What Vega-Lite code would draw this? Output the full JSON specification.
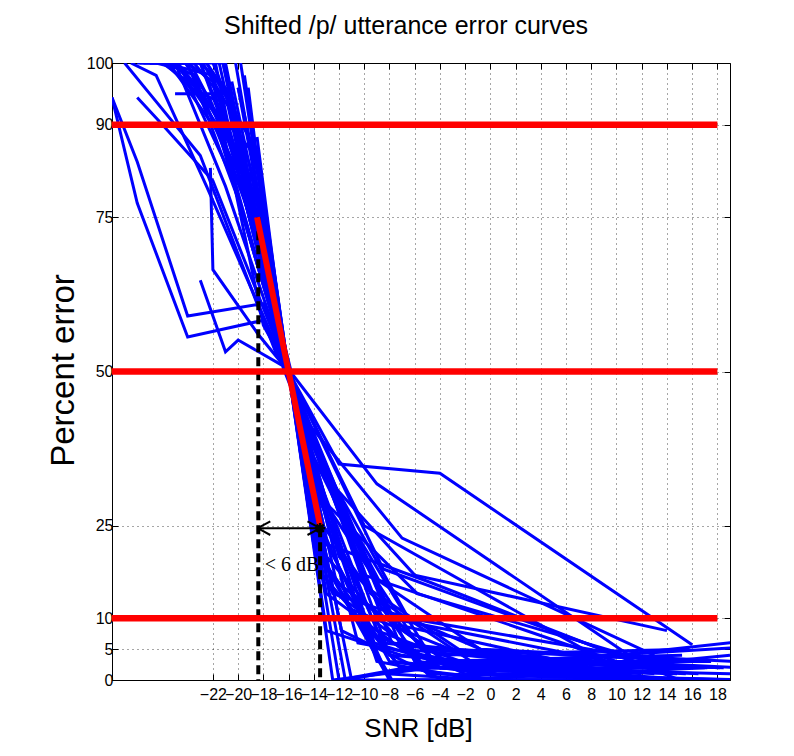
{
  "$schema": "https://vega.github.io/schema/vega-lite/v6.json",
  "width": 618,
  "height": 617,
  "autosize": {"type": "none"},
  "padding": {"left": 112, "top": 63, "right": 64, "bottom": 76},
  "background": "white",
  "title": {"text": "Shifted /p/ utterance error curves", "font": "Liberation Sans", "fontSize": 25, "fontWeight": "normal", "color": "black", "anchor": "middle", "baseline": "alphabetic", "offset": 26, "dx": -15, "dy": 30, "frame": "group"},
  "config": {
    "view": {"stroke": "black", "strokeWidth": 1},
    "axis": {"domainColor": "black", "tickColor": "black", "labelColor": "black", "titleColor": "black", "titleFontWeight": "normal", "minExtent": 0}
  },
  "datasets": {
    "curves": [
      {"c":"C1","x":-20,"y":96},{"c":"C1","x":-18,"y":74},{"c":"C1","x":-14,"y":26},{"c":"C1","x":-8,"y":3},{"c":"C1","x":0,"y":1},{"c":"C1","x":20,"y":0},
      {"c":"C2","x":-21,"y":100},{"c":"C2","x":-19,"y":80},{"c":"C2","x":-15,"y":40},{"c":"C2","x":-9,"y":8},{"c":"C2","x":-1,"y":2},{"c":"C2","x":19,"y":1},
      {"c":"C3","x":-19,"y":90},{"c":"C3","x":-17,"y":64},{"c":"C3","x":-13,"y":8},{"c":"C3","x":-7,"y":4},{"c":"C3","x":1,"y":2},{"c":"C3","x":21,"y":6.5},
      {"c":"C4","x":-21.5,"y":100},{"c":"C4","x":-19.5,"y":81.5},{"c":"C4","x":-15.5,"y":45.5},{"c":"C4","x":-9.5,"y":14},{"c":"C4","x":-1.5,"y":3},{"c":"C4","x":18.5,"y":2},
      {"c":"C5","x":-19.5,"y":98},{"c":"C5","x":-17.5,"y":69.5},{"c":"C5","x":-13.5,"y":17.5},{"c":"C5","x":-7.5,"y":3},{"c":"C5","x":0.5,"y":1},{"c":"C5","x":20.5,"y":0},
      {"c":"C6","x":-20.5,"y":97},{"c":"C6","x":-18.5,"y":77.5},{"c":"C6","x":-14.5,"y":33.5},{"c":"C6","x":-8.5,"y":6},{"c":"C6","x":-0.5,"y":4},{"c":"C6","x":19.5,"y":2},
      {"c":"C7","x":-18.5,"y":88},{"c":"C7","x":-16.5,"y":56},{"c":"C7","x":-12.5,"y":14},{"c":"C7","x":-6.5,"y":10},{"c":"C7","x":1.5,"y":3},{"c":"C7","x":21.5,"y":5.5},
      {"c":"C8","x":-21.8,"y":100},{"c":"C8","x":-19.8,"y":80.4},{"c":"C8","x":-15.8,"y":48.4},{"c":"C8","x":-9.8,"y":15},{"c":"C8","x":-1.8,"y":4},{"c":"C8","x":18.2,"y":2},
      {"c":"C9","x":-20.8,"y":95},{"c":"C9","x":-18.8,"y":75.2},{"c":"C9","x":-14.8,"y":39.2},{"c":"C9","x":-8.8,"y":16},{"c":"C9","x":-0.8,"y":5},{"c":"C9","x":19.2,"y":3},
      {"c":"C10","x":-19.8,"y":100},{"c":"C10","x":-17.8,"y":73.4},{"c":"C10","x":-13.8,"y":21.4},{"c":"C10","x":-7.8,"y":0},{"c":"C10","x":0.2,"y":0},{"c":"C10","x":20.2,"y":0},
      {"c":"C11","x":-19.2,"y":96},{"c":"C11","x":-17.2,"y":63.2},{"c":"C11","x":-13.2,"y":19.2},{"c":"C11","x":-7.2,"y":2},{"c":"C11","x":0.8,"y":0},{"c":"C11","x":20.8,"y":0},
      {"c":"C12","x":-23,"y":100},{"c":"C12","x":-21,"y":96},{"c":"C12","x":-17,"y":60},{"c":"C12","x":-11,"y":0},{"c":"C12","x":-3,"y":0},{"c":"C12","x":17,"y":2},
      {"c":"C13","x":-24,"y":100},{"c":"C13","x":-22,"y":97},{"c":"C13","x":-18,"y":57.5},{"c":"C13","x":-12,"y":35},{"c":"C13","x":-4,"y":33.5},{"c":"C13","x":16,"y":5.7},
      {"c":"C14","x":-25,"y":100},{"c":"C14","x":-23,"y":100},{"c":"C14","x":-19,"y":80},{"c":"C14","x":-13,"y":20},{"c":"C14","x":-5,"y":1},{"c":"C14","x":15,"y":0},
      {"c":"C15","x":-24.5,"y":100},{"c":"C15","x":-22.5,"y":100},{"c":"C15","x":-18.5,"y":85.7},{"c":"C15","x":-12.5,"y":0},{"c":"C15","x":-4.5,"y":2},{"c":"C15","x":15.5,"y":0},
      {"c":"C16","x":-23.5,"y":100},{"c":"C16","x":-21.5,"y":95},{"c":"C16","x":-17.5,"y":66.7},{"c":"C16","x":-11.5,"y":0},{"c":"C16","x":-3.5,"y":3},{"c":"C16","x":16.5,"y":1},
      {"c":"C17","x":-26,"y":100},{"c":"C17","x":-24,"y":100},{"c":"C17","x":-20,"y":78},{"c":"C17","x":-14,"y":36},{"c":"C17","x":-6,"y":3},{"c":"C17","x":14,"y":0},
      {"c":"C18","x":-25.5,"y":100},{"c":"C18","x":-23.5,"y":98},{"c":"C18","x":-19.5,"y":78},{"c":"C18","x":-13.5,"y":30},{"c":"C18","x":-5.5,"y":5},{"c":"C18","x":14.5,"y":2},
      {"c":"C19","x":-22.5,"y":100},{"c":"C19","x":-20.5,"y":94},{"c":"C19","x":-16.5,"y":54},{"c":"C19","x":-10.5,"y":6},{"c":"C19","x":-2.5,"y":3},{"c":"C19","x":17.5,"y":3},
      {"c":"C20","x":-27,"y":100},{"c":"C20","x":-25,"y":100},{"c":"C20","x":-21,"y":80},{"c":"C20","x":-15,"y":44},{"c":"C20","x":-7,"y":5},{"c":"C20","x":13,"y":1},
      {"c":"C21","x":-26.5,"y":100},{"c":"C21","x":-24.5,"y":99},{"c":"C21","x":-20.5,"y":81.5},{"c":"C21","x":-14.5,"y":39.5},{"c":"C21","x":-6.5,"y":10},{"c":"C21","x":13.5,"y":3},
      {"c":"C22","x":-24.2,"y":100},{"c":"C22","x":-22.2,"y":94},{"c":"C22","x":-18.2,"y":69.8},{"c":"C22","x":-12.2,"y":15.8},{"c":"C22","x":-4.2,"y":4},{"c":"C22","x":15.8,"y":5},
      {"c":"C23","x":-25.2,"y":100},{"c":"C23","x":-23.2,"y":96},{"c":"C23","x":-19.2,"y":78.8},{"c":"C23","x":-13.2,"y":24.8},{"c":"C23","x":-5.2,"y":2},{"c":"C23","x":14.8,"y":1},
      {"c":"C24","x":-23.8,"y":96},{"c":"C24","x":-21.8,"y":94},{"c":"C24","x":-17.8,"y":68},{"c":"C24","x":-11.8,"y":8},{"c":"C24","x":-3.8,"y":0},{"c":"C24","x":16.2,"y":0},
      {"c":"C25","x":-24.8,"y":100},{"c":"C25","x":-22.8,"y":95},{"c":"C25","x":-18.8,"y":80.8},{"c":"C25","x":-12.8,"y":14.8},{"c":"C25","x":-4.8,"y":3},{"c":"C25","x":15.2,"y":4},
      {"c":"C26","x":-21.2,"y":100},{"c":"C26","x":-19.2,"y":82},{"c":"C26","x":-15.2,"y":42},{"c":"C26","x":-9.2,"y":6},{"c":"C26","x":-1.2,"y":1},{"c":"C26","x":18.8,"y":0},
      {"c":"C27","x":-22.8,"y":100},{"c":"C27","x":-20.8,"y":93},{"c":"C27","x":-16.8,"y":55.6},{"c":"C27","x":-10.8,"y":13.6},{"c":"C27","x":-2.8,"y":2},{"c":"C27","x":17.2,"y":2},
      {"c":"C28","x":-23.2,"y":100},{"c":"C28","x":-21.2,"y":100},{"c":"C28","x":-17.2,"y":59.6},{"c":"C28","x":-11.2,"y":11.6},{"c":"C28","x":-3.2,"y":5},{"c":"C28","x":16.8,"y":3},
      {"c":"C29","x":-20.2,"y":100},{"c":"C29","x":-18.2,"y":76.4},{"c":"C29","x":-14.2,"y":28.4},{"c":"C29","x":-8.2,"y":1},{"c":"C29","x":-0.2,"y":0},{"c":"C29","x":19.8,"y":0},
      {"c":"C30","x":-25.8,"y":100},{"c":"C30","x":-23.8,"y":100},{"c":"C30","x":-19.8,"y":84.2},{"c":"C30","x":-13.8,"y":30.2},{"c":"C30","x":-5.8,"y":14},{"c":"C30","x":14.2,"y":2},
      {"c":"C31","x":-27.5,"y":100},{"c":"C31","x":-25.5,"y":100},{"c":"C31","x":-21.5,"y":88.5},{"c":"C31","x":-15.5,"y":46.5},{"c":"C31","x":-7.5,"y":9},{"c":"C31","x":12.5,"y":0},
      {"c":"C32","x":-20,"y":96},{"c":"C32","x":-18,"y":78},{"c":"C32","x":-14,"y":22},{"c":"C32","x":-8,"y":0},{"c":"C32","x":0,"y":0},{"c":"C32","x":20,"y":0},
      {"c":"C33","x":-22,"y":100},{"c":"C33","x":-20,"y":90},{"c":"C33","x":-16,"y":50},{"c":"C33","x":-10,"y":8},{"c":"C33","x":-2,"y":1},{"c":"C33","x":18,"y":0},
      {"c":"C34","x":-24,"y":95},{"c":"C34","x":-22,"y":95},{"c":"C34","x":-18,"y":75},{"c":"C34","x":-12,"y":0},{"c":"C34","x":-4,"y":3},{"c":"C34","x":16,"y":0},
      {"c":"C35","x":-25,"y":95},{"c":"C35","x":-23,"y":95},{"c":"C35","x":-19,"y":86},{"c":"C35","x":-13,"y":14},{"c":"C35","x":-5,"y":2},{"c":"C35","x":15,"y":3},
      {"c":"C36","x":-21,"y":95},{"c":"C36","x":-19,"y":83},{"c":"C36","x":-15,"y":39},{"c":"C36","x":-9,"y":3},{"c":"C36","x":-1,"y":0},{"c":"C36","x":19,"y":4},
      {"c":"C37","x":-28,"y":100},{"c":"C37","x":-26,"y":100},{"c":"C37","x":-22,"y":98},{"c":"C37","x":-16,"y":50},{"c":"C37","x":-8,"y":4},{"c":"C37","x":12,"y":1},
      {"c":"C38","x":-27.8,"y":100},{"c":"C38","x":-25.8,"y":100},{"c":"C38","x":-21.8,"y":92},{"c":"C38","x":-15.8,"y":48.6},{"c":"C38","x":-7.8,"y":6},{"c":"C38","x":12.2,"y":2},
      {"c":"A","x":-30,"y":94.4},{"c":"A","x":-28,"y":84},{"c":"A","x":-24,"y":59},{"c":"A","x":-18,"y":61},{"c":"A","x":-10,"y":17},{"c":"A","x":10,"y":3},
      {"c":"B","x":-30,"y":94.4},{"c":"B","x":-28,"y":77.3},{"c":"B","x":-24,"y":55.6},{"c":"B","x":-18,"y":58.3},{"c":"B","x":-10,"y":25},{"c":"B","x":10,"y":2},
      {"c":"C","x":-28,"y":94.4},{"c":"C","x":-26,"y":90},{"c":"C","x":-22,"y":80.9},{"c":"C","x":-16,"y":50},{"c":"C","x":-8,"y":10},{"c":"C","x":12,"y":2},
      {"c":"D","x":-23,"y":64.8},{"c":"D","x":-21,"y":53.2},{"c":"D","x":-20,"y":55.1},{"c":"D","x":-16.5,"y":51},{"c":"D","x":-12.5,"y":30},{"c":"D","x":-4.5,"y":3},{"c":"D","x":15.5,"y":1},
      {"c":"E","x":-22.2,"y":83},{"c":"E","x":-22,"y":66.5},{"c":"E","x":-18.4,"y":56},{"c":"E","x":-16,"y":50},{"c":"E","x":-12,"y":20},{"c":"E","x":-4,"y":2},{"c":"E","x":16,"y":0},
      {"c":"G","x":-27,"y":100},{"c":"G","x":-25,"y":100},{"c":"G","x":-21,"y":90},{"c":"G","x":-15,"y":43},{"c":"G","x":-7,"y":23},{"c":"G","x":13,"y":4},
      {"c":"H","x":-28.5,"y":100},{"c":"H","x":-26.5,"y":98},{"c":"H","x":-22.5,"y":80},{"c":"H","x":-16.5,"y":52},{"c":"H","x":-8.5,"y":18},{"c":"H","x":11.5,"y":3},
      {"c":"I","x":-29,"y":100},{"c":"I","x":-27,"y":95},{"c":"I","x":-23,"y":85},{"c":"I","x":-17,"y":53},{"c":"I","x":-9,"y":31.8},{"c":"I","x":11,"y":4},
      {"c":"J","x":-26,"y":100},{"c":"J","x":-24,"y":97},{"c":"J","x":-20,"y":85},{"c":"J","x":-14,"y":35},{"c":"J","x":-6,"y":17},{"c":"J","x":14,"y":8},
      {"c":"K","x":-25,"y":100},{"c":"K","x":-23,"y":100},{"c":"K","x":-19,"y":78},{"c":"K","x":-13,"y":22},{"c":"K","x":-5,"y":16},{"c":"K","x":15,"y":0}
    ]
  },
  "layer": [
    {
      "data": {"name": "curves"},
      "mark": {"type": "line", "color": "#0000ff", "strokeWidth": 3, "clip": true},
      "encoding": {
        "x": {"field": "x", "type": "quantitative",
          "scale": {"domain": [-30, 19], "nice": false, "zero": false},
          "axis": {"values": [-22,-20,-18,-16,-14,-12,-10,-8,-6,-4,-2,0,2,4,6,8,10,12,14,16,18], "format": "d",
            "grid": true, "gridDash": [1, 4], "gridColor": "#000", "gridOpacity": 0.7,
            "tickSize": -6, "labelFont": "Liberation Sans", "labelFontSize": 16, "labelPadding": 12,
            "labelOverlap": false, "labelFlush": false,
            "title": "SNR [dB]", "titleFont": "Liberation Sans", "titleFontSize": 26,
            "titleX": 306, "titleY": 56, "titleBaseline": "alphabetic", "titleAlign": "center"}},
        "y": {"field": "y", "type": "quantitative",
          "scale": {"domain": [0, 100], "nice": false},
          "axis": {"values": [0, 5, 10, 25, 50, 75, 90, 100], "format": "d",
            "grid": true, "gridDash": [1, 4], "gridColor": "#000", "gridOpacity": 0.7,
            "tickSize": -6, "labelFont": "Liberation Sans", "labelFontSize": 16, "labelPadding": 5,
            "labelOverlap": false, "labelFlush": false,
            "title": "Percent error", "titleFont": "Liberation Sans", "titleFontSize": 33,
            "titleAngle": 270, "titleX": -39, "titleY": 307, "titleBaseline": "alphabetic", "titleAlign": "center"}},
        "detail": {"field": "c", "type": "nominal"}
      }
    },
    {
      "data": {"values": [{"x": -18.4, "y": 75, "y2": 0}, {"x": -13.5, "y": 24.6, "y2": 0}]},
      "mark": {"type": "rule", "color": "black", "strokeWidth": 4, "strokeDash": [9, 5]},
      "encoding": {
        "x": {"field": "x", "type": "quantitative", "scale": {"domain": [-30, 19], "nice": false, "zero": false}, "axis": null},
        "y": {"field": "y", "type": "quantitative", "scale": {"domain": [0, 100], "nice": false}, "axis": null},
        "y2": {"field": "y2"}
      }
    },
    {
      "data": {"values": [{"v": 90, "x1": -30, "x2": 18}, {"v": 50, "x1": -30, "x2": 18}, {"v": 10, "x1": -30, "x2": 18}]},
      "mark": {"type": "rule", "color": "#ff0000", "strokeWidth": 6.5},
      "encoding": {
        "x": {"field": "x1", "type": "quantitative", "scale": {"domain": [-30, 19], "nice": false, "zero": false},
          "axis": {"orient": "top", "values": [-22,-20,-18,-16,-14,-12,-10,-8,-6,-4,-2,0,2,4,6,8,10,12,14,16,18], "labels": false, "grid": false, "domain": false, "tickSize": -6, "title": null, "minExtent": 0, "maxExtent": 0}},
        "x2": {"field": "x2"},
        "y": {"field": "v", "type": "quantitative", "scale": {"domain": [0, 100], "nice": false},
          "axis": {"orient": "right", "values": [0, 5, 10, 25, 50, 75, 90, 100], "labels": false, "grid": false, "domain": false, "tickSize": -6, "title": null, "minExtent": 0, "maxExtent": 0}}
      }
    },
    {
      "data": {"values": [
        {"x": -18.5, "y": 75, "x2": -13.5, "y2": 25, "k": "red"},
        {"x": -18.4, "y": 24.6, "x2": -13.5, "y2": 24.6, "k": "black"},
        {"x": -18.45, "y": 24.6, "x2": -17.45, "y2": 25.7, "k": "black"},
        {"x": -18.45, "y": 24.6, "x2": -17.45, "y2": 23.5, "k": "black"},
        {"x": -13.5, "y": 24.6, "x2": -14.5, "y2": 25.7, "k": "black"},
        {"x": -13.5, "y": 24.6, "x2": -14.5, "y2": 23.5, "k": "black"}
      ]},
      "mark": {"type": "rule"},
      "encoding": {
        "x": {"field": "x", "type": "quantitative", "scale": {"domain": [-30, 19], "nice": false, "zero": false}, "axis": null},
        "y": {"field": "y", "type": "quantitative", "scale": {"domain": [0, 100], "nice": false}, "axis": null},
        "x2": {"field": "x2"},
        "y2": {"field": "y2"},
        "color": {"field": "k", "type": "nominal", "scale": {"domain": ["red", "black"], "range": ["#ff0000", "#000000"]}, "legend": null},
        "strokeWidth": {"field": "k", "type": "nominal", "scale": {"domain": ["red", "black"], "range": [6, 2]}, "legend": null}
      }
    },
    {
      "data": {"values": [{"x": -13.5, "y": 24.6}]},
      "mark": {"type": "point", "shape": "M-1,0L1,0M0,-1L0,1M-0.7,-0.7L0.7,0.7M-0.7,0.7L0.7,-0.7", "size": 110, "stroke": "black", "strokeWidth": 2.5, "filled": false, "opacity": 1},
      "encoding": {
        "x": {"field": "x", "type": "quantitative", "scale": {"domain": [-30, 19], "nice": false, "zero": false}, "axis": null},
        "y": {"field": "y", "type": "quantitative", "scale": {"domain": [0, 100], "nice": false}, "axis": null}
      }
    },
    {
      "data": {"values": [{"x": -15.73, "y": 17.7, "t": "< 6 dB"}]},
      "mark": {"type": "text", "font": "Liberation Serif", "fontSize": 20, "color": "black", "align": "center", "baseline": "alphabetic"},
      "encoding": {
        "x": {"field": "x", "type": "quantitative", "scale": {"domain": [-30, 19], "nice": false, "zero": false}, "axis": null},
        "y": {"field": "y", "type": "quantitative", "scale": {"domain": [0, 100], "nice": false}, "axis": null},
        "text": {"field": "t"}
      }
    }
  ],
  "resolve": {"axis": {"x": "independent", "y": "independent"}}
}
